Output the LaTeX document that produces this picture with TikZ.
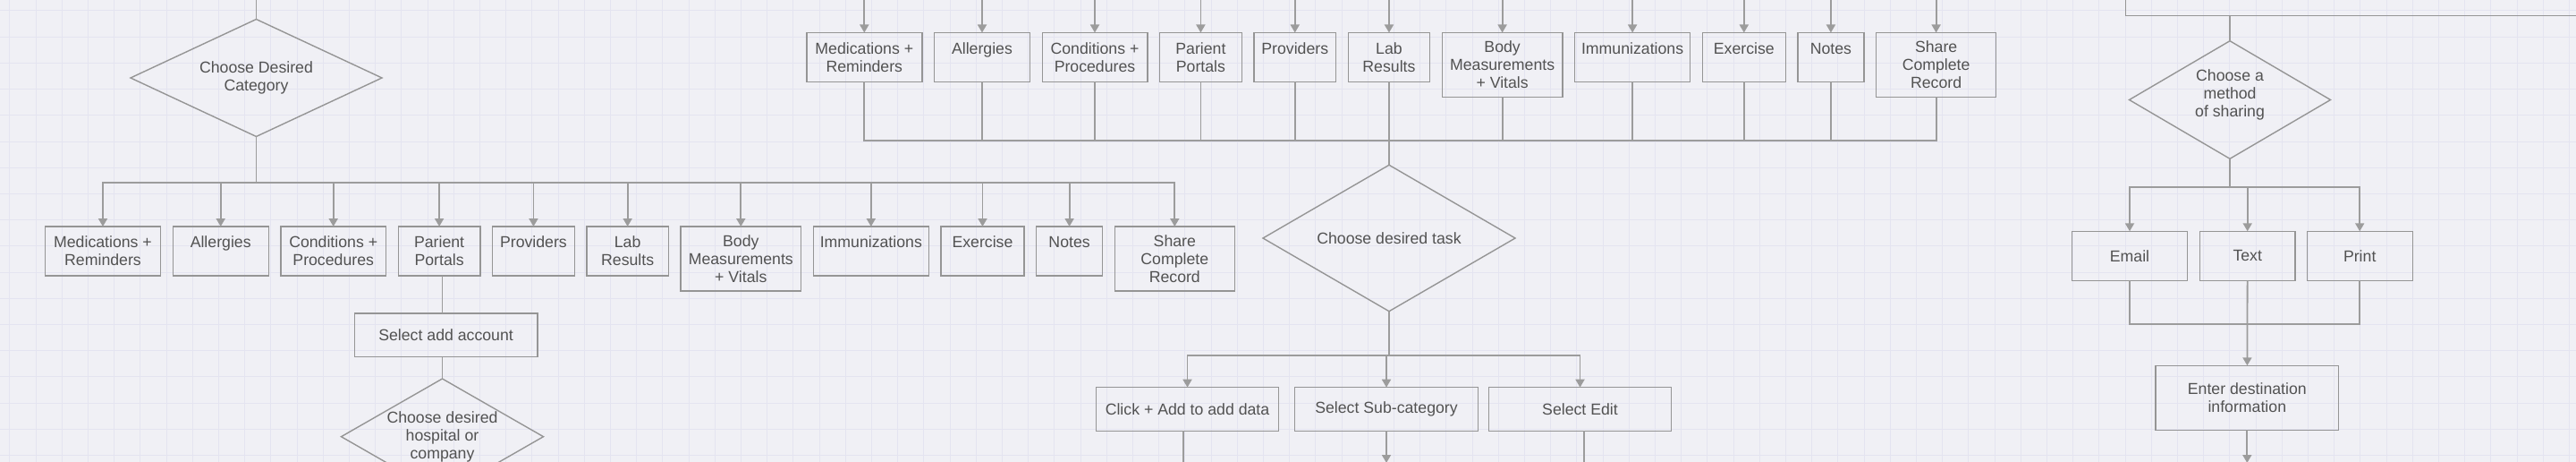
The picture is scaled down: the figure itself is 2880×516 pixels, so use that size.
\documentclass[tikz,border=0pt]{standalone}
\usepackage{fontspec}
\setmainfont{Liberation Sans}
\usetikzlibrary{positioning,shapes.geometric,arrows.meta}
\definecolor{paper}{HTML}{F0F0F5}
\definecolor{gridc}{HTML}{E4E4F0}
\definecolor{wire}{HTML}{9C9C9C}
\definecolor{edgec}{HTML}{959595}
\definecolor{ink}{HTML}{525252}

\begin{document}
\begin{tikzpicture}[x=1pt,y=-1pt,
    base/.style={draw=edgec, line width=1.4pt, text=ink, font=\fontsize{17.7pt}{20pt}\selectfont, align=center, inner sep=4pt, outer sep=0pt},
    catbox/.style={base, rectangle, minimum height=55pt},
    tallbox/.style={catbox, minimum height=72pt},
    stepbox/.style={base, rectangle, minimum width=204.5pt, minimum height=48.6pt},
    choice/.style={base, diamond, aspect=2, inner sep=0pt},
    link/.style={draw=wire, line width=1.8pt},
    flow/.style={link, -{Triangle[width=10pt,length=9pt]}},
    busdown/.style={to path={-| (\tikztotarget) \tikztonodes}},
    busup/.style={to path={|- (\tikztotarget) \tikztonodes}}]
    \useasboundingbox (0,0) rectangle (2880,516);
    \clip (0,0) rectangle (2880,516);
    \fill[paper] (0,0) rectangle (2880,516);
    \draw[gridc, line width=1pt, step=29.2pt, shift={(10.9,12)}] (-30,-30) grid (2880,516);

    % first choice and its categories
    \node[choice, minimum width=281pt, minimum height=131pt] (cat) at (286.5,87) {Choose Desired\\Category};
    \node[catbox, minimum width=129pt, anchor=north west] (med1) at (50.5,253) {Medications +\\Reminders};
    \node[catbox, minimum width=107pt, right=13.7pt of med1.north east, anchor=north west] (alg1) {Allergies\\\mbox{}};
    \node[catbox, minimum width=117.6pt, right=13.7pt of alg1.north east, anchor=north west] (cond1) {Conditions +\\Procedures};
    \node[catbox, minimum width=91.8pt, right=13.7pt of cond1.north east, anchor=north west] (port1) {Parient\\Portals};
    \node[catbox, minimum width=91.5pt, right=13.7pt of port1.north east, anchor=north west] (prov1) {Providers\\\mbox{}};
    \node[catbox, minimum width=91.5pt, right=13.7pt of prov1.north east, anchor=north west] (lab1) {Lab\\Results};
    \node[tallbox, minimum width=134.4pt, right=13.7pt of lab1.north east, anchor=north west] (body1) {Body\\Measurements\\+ Vitals};
    \node[catbox, minimum width=129.2pt, right=13.7pt of body1.north east, anchor=north west] (imm1) {Immunizations\\\mbox{}};
    \node[catbox, minimum width=92.8pt, right=13.7pt of imm1.north east, anchor=north west] (exer1) {Exercise\\\mbox{}};
    \node[catbox, minimum width=74pt, right=13.7pt of exer1.north east, anchor=north west] (note1) {Notes\\\mbox{}};
    \node[tallbox, minimum width=134pt, right=13.7pt of note1.north east, anchor=north west] (share1) {Share\\Complete\\Record};

    % patient portal branch
    \node[stepbox] (acct) at (498.6,374.3) {Select add account};
    \node[choice, aspect=1.7, inner sep=-3pt, minimum width=226pt, minimum height=129.4pt] (hosp) at (494.5,487.7) {Choose desired\\hospital or\\company};

    % second set of categories
    \node[catbox, minimum width=129pt, anchor=north west] (med2) at (901.8,36.5) {Medications +\\Reminders};
    \node[catbox, minimum width=107pt, right=13.7pt of med2.north east, anchor=north west] (alg2) {Allergies\\\mbox{}};
    \node[catbox, minimum width=117.6pt, right=13.7pt of alg2.north east, anchor=north west] (cond2) {Conditions +\\Procedures};
    \node[catbox, minimum width=91.8pt, right=13.7pt of cond2.north east, anchor=north west] (port2) {Parient\\Portals};
    \node[catbox, minimum width=91.5pt, right=13.7pt of port2.north east, anchor=north west] (prov2) {Providers\\\mbox{}};
    \node[catbox, minimum width=91.5pt, right=13.7pt of prov2.north east, anchor=north west] (lab2) {Lab\\Results};
    \node[tallbox, minimum width=134.4pt, right=13.7pt of lab2.north east, anchor=north west] (body2) {Body\\Measurements\\+ Vitals};
    \node[catbox, minimum width=129.2pt, right=13.7pt of body2.north east, anchor=north west] (imm2) {Immunizations\\\mbox{}};
    \node[catbox, minimum width=92.8pt, right=13.7pt of imm2.north east, anchor=north west] (exer2) {Exercise\\\mbox{}};
    \node[catbox, minimum width=74pt, right=13.7pt of exer2.north east, anchor=north west] (note2) {Notes\\\mbox{}};
    \node[tallbox, minimum width=134pt, right=13.7pt of note2.north east, anchor=north west] (share2) {Share\\Complete\\Record};

    % task choice
    \node[choice, minimum width=282pt, minimum height=163.4pt] (task) at (1553,266) {Choose desired task};
    \node[stepbox] (click) at (1327.5,457) {Click + Add to add data};
    \node[stepbox] (sub) at (1550,457) {Select Sub-category};
    \node[stepbox] (edit) at (1766.5,457) {Select Edit};

    % sharing
    \node[base, minimum width=600pt, minimum height=80pt, anchor=south west] (prev) at (2376.7,17.7) {};
    \node[choice, aspect=1.7, minimum width=225pt, minimum height=131.6pt] (meth) at (2493,111.5) {Choose a\\method\\of sharing\\[-6pt]\mbox{}};
    \node[catbox, minimum width=129pt] (email) at (2381,285.8) {Email};
    \node[catbox, minimum width=106.5pt] (txt) at (2512.7,285.8) {Text};
    \node[catbox, minimum width=118pt] (print) at (2638.2,285.8) {Print};
    \node[stepbox, minimum height=72pt] (dest) at (2512.3,444.3) {Enter destination\\information};

    \coordinate (catin) at (286.5,-20);
    \coordinate (j0) at (1553,-20);
    \coordinate (j1) at (286.5,204);
    \coordinate (j2) at (1553,156.7);
    \coordinate (j3) at (1553,396.7);
    \coordinate (j4) at (2493,209.3);
    \coordinate (j5) at (2512,362.3);
    \coordinate (clickout) at (1323,540);
    \coordinate (subout) at (1550,517);
    \coordinate (editout) at (1771,540);
    \coordinate (destout) at (2512.3,517);

    \path
        (catin) edge[link] (cat)
        (cat) edge[link] (j1)
        (j1) edge[flow, busdown] (med1)
        (j1) edge[flow, busdown] (alg1)
        (j1) edge[flow, busdown] (cond1)
        (j1) edge[flow, busdown] (port1)
        (j1) edge[flow, busdown] (prov1)
        (j1) edge[flow, busdown] (lab1)
        (j1) edge[flow, busdown] (body1)
        (j1) edge[flow, busdown] (imm1)
        (j1) edge[flow, busdown] (exer1)
        (j1) edge[flow, busdown] (note1)
        (j1) edge[flow, busdown] (share1)
        (hosp.north |- port1.south) edge[link] (hosp.north |- acct.north)
        (hosp.north |- acct.south) edge[link] (hosp)
        ;

    \path
        (j0) edge[flow, busdown] (med2)
        (j0) edge[flow, busdown] (alg2)
        (j0) edge[flow, busdown] (cond2)
        (j0) edge[flow, busdown] (port2)
        (j0) edge[flow, busdown] (prov2)
        (j0) edge[flow, busdown] (lab2)
        (j0) edge[flow, busdown] (body2)
        (j0) edge[flow, busdown] (imm2)
        (j0) edge[flow, busdown] (exer2)
        (j0) edge[flow, busdown] (note2)
        (j0) edge[flow, busdown] (share2)
        (med2) edge[link, busup] (j2)
        (alg2) edge[link, busup] (j2)
        (cond2) edge[link, busup] (j2)
        (port2) edge[link, busup] (j2)
        (prov2) edge[link, busup] (j2)
        (lab2) edge[link, busup] (j2)
        (body2) edge[link, busup] (j2)
        (imm2) edge[link, busup] (j2)
        (exer2) edge[link, busup] (j2)
        (note2) edge[link, busup] (j2)
        (share2) edge[link, busup] (j2)
        (j2) edge[link] (task)
        (task) edge[link] (j3)
        (j3) edge[flow, busdown] (click)
        (j3) edge[flow, busdown] (sub)
        (j3) edge[flow, busdown] (edit)
        (click.south -| clickout) edge[link] (clickout)
        (sub) edge[flow] (subout)
        (edit.south -| editout) edge[link] (editout)
        ;

    \path
        (meth.north |- prev.south) edge[link] (meth)
        (meth) edge[link] (j4)
        (j4) edge[flow, busdown] (email)
        (j4) edge[flow, busdown] (txt)
        (j4) edge[flow, busdown] (print)
        (email) edge[link, busup] (j5)
        (print) edge[link, busup] (j5)
        (txt) edge[flow] (dest)
        (dest) edge[flow] (destout)
        ;
\end{tikzpicture}
\end{document}
